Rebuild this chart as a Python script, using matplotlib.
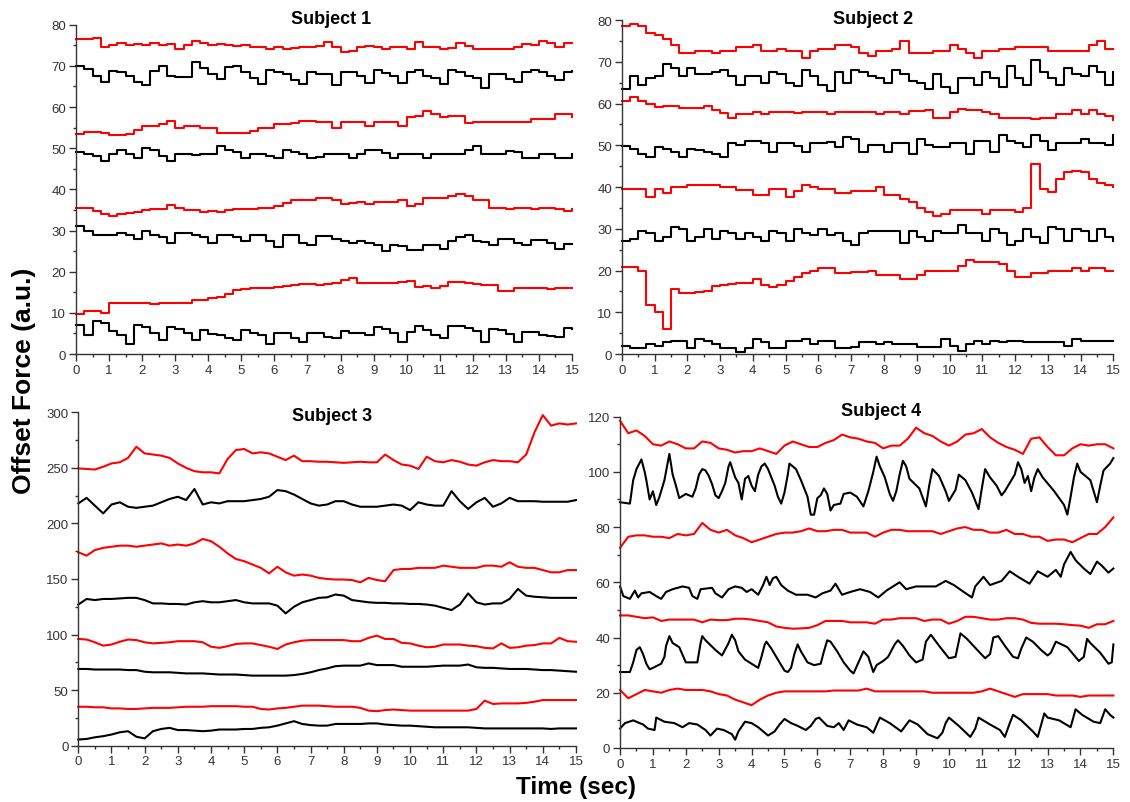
import matplotlib
matplotlib.use('Agg')
import matplotlib.pyplot as plt
import numpy as np
from matplotlib.ticker import MultipleLocator

plt.rcParams['font.family'] = ['Liberation Sans', 'DejaVu Sans']

# ---- Subject 1 : one value every 0.25 s (0 .. 15 s) ----
s1_red_75 = [76.5, 76.5, 76.8, 74.5, 75, 75.5, 75, 75.3, 75, 75.5, 75, 75.2, 74, 75, 76, 75.5,
             75, 75.3, 75, 74.8, 75, 74.5, 74.5, 74.2, 74.5, 74, 74.3, 74.5, 74.5, 74.8, 75.7, 74.5,
             73.3, 73.5, 74.5, 74.8, 74.5, 74.2, 74.5, 74.5, 74.2, 75.7, 74.5, 74.5, 74, 74.3, 75.5,
             74.8, 74.2, 74, 74.2, 74, 74.2, 74.5, 75.3, 75, 76, 75.5, 74.5, 75.5, 75.5]
s1_black_68 = [70, 69.2, 67.5, 66.2, 68.8, 68.5, 67.5, 66, 65.3, 68.8, 70, 67.5, 67.2, 67.3, 71, 69.5,
               68, 66.8, 69.8, 70, 68.5, 67, 65.5, 69, 68.5, 68, 66.5, 65.5, 68.5, 68, 68, 65.3,
               68.5, 68.5, 67.5, 65.8, 69, 68.3, 67.5, 65.8, 68.5, 69, 67.5, 67, 65.5, 69, 68.5,
               67.5, 67, 64.5, 68, 68, 66.8, 66, 68.5, 69, 68.5, 67.5, 66.5, 68.5, 68.8]
s1_red_55 = [53.5, 54, 54, 53.8, 53.2, 53.3, 53.5, 54.5, 55.5, 55.5, 55.8, 56.5, 55, 55.5, 55.3, 55,
             54.8, 53.8, 53.8, 53.8, 53.8, 54.2, 55, 55, 55.8, 55.9, 56, 56.5, 56.5, 56.3, 56.3, 55,
             56.3, 56.3, 56.3, 55.5, 56.3, 56.3, 56.3, 55.5, 57.5, 57.8, 59, 58.3, 57.5, 57.9, 57.9,
             56, 56.3, 56.3, 56.3, 56.3, 56.3, 56.3, 56.3, 57, 57, 57, 58.3, 58.3, 57.5]
s1_black_48 = [49, 48.5, 48, 47, 48.5, 49.5, 48.5, 47.5, 50, 49.5, 48, 47, 48.5, 48.5, 48.3, 48.5,
               48.5, 50.5, 49.5, 49, 47.5, 48.5, 48.5, 48, 47.5, 49.5, 49, 48.5, 47.5, 47.8, 48.5, 48.5,
               48.5, 47.5, 48.5, 49.5, 49.5, 48.8, 47.5, 48.5, 48.5, 48.5, 47.5, 48.5, 48.5, 48.5, 48.5,
               49.5, 50.5, 48.5, 48.5, 48.5, 49.2, 49, 47.5, 47.5, 48.5, 48.5, 47.5, 47.5, 48.5]
s1_red_35 = [35.5, 35.5, 34.8, 34, 33.5, 34, 34.2, 34.5, 35, 35.2, 35.3, 36.3, 35.5, 35, 35, 34.5,
             34.8, 34.5, 35, 35.2, 35.2, 35.2, 35.5, 35.5, 36, 36.8, 37.5, 37.5, 37.5, 37.8, 37.8, 37.5,
             36.5, 36.8, 37, 36.5, 37, 37, 37, 37.5, 36, 36.5, 37.8, 37.8, 38, 38.5, 38.8,
             38.3, 37.5, 37.5, 35.5, 35.5, 35.3, 35.5, 35.5, 35.3, 35.5, 35.5, 35.3, 34.8, 35.2]
s1_black_28 = [31, 30, 29, 29, 29, 29.5, 29, 28, 30, 29, 28.5, 27, 29.5, 29.5, 29, 28.5,
               27, 29, 28.8, 28.5, 27.5, 28.8, 28.8, 27.5, 26, 29, 28.8, 27, 26.5, 28.6, 28.6, 28,
               27.5, 27, 27.5, 27, 26.5, 25, 26.5, 26.3, 25.3, 25.3, 26.5, 26.5, 25.5, 27.5, 28.5,
               29, 27.5, 27.3, 26.5, 28, 28, 27, 26.5, 27.8, 27.8, 27, 25.5, 26.7, 26.7]
s1_red_15 = [9.8, 10.5, 10.5, 10, 12.5, 12.5, 12.3, 12.5, 12.5, 12.2, 12.5, 12.3, 12.5, 12.5, 13, 13,
             13.5, 13.8, 14.5, 15.5, 15.8, 16, 16, 16, 16.3, 16.5, 16.8, 17, 17, 16.8, 17, 17.2,
             18, 18.5, 17.2, 17.2, 17.2, 17.2, 17.2, 17.5, 17.8, 16.2, 16.4, 16, 16.4, 17.5, 17.5,
             17.3, 17, 16.8, 16.8, 15.2, 15.2, 16, 16, 16, 16, 15.8, 16, 16, 16]
s1_black_5 = [7, 4.5, 8, 7.5, 5.5, 4.5, 2.5, 7, 6.5, 5, 3.5, 6.5, 6, 5, 3.5, 5.8,
              4.8, 4.5, 4, 3.5, 5.8, 5, 4.5, 2.5, 5, 5, 4, 3, 5.2, 5.2, 4.2, 3.8,
              5.5, 5.2, 5, 4.5, 6.5, 6, 5.2, 3, 5.3, 6.9, 5.8, 4.5, 3.8, 6.9, 6.9,
              6.3, 5.5, 2.8, 6.1, 5.8, 4.8, 3, 5.3, 5.3, 4.5, 4.3, 4.2, 6.3, 6.1]

# ---- Subject 2 : one value every 0.25 s ----
s2_red_73 = [78.5, 79, 78.5, 77, 76.5, 75.5, 74, 72, 72, 72.5, 72.5, 72, 72.5, 72.5, 73.5, 73.5,
             74, 72.5, 72.5, 73, 72.5, 72.5, 71, 72.5, 73, 73, 74, 74, 73.5, 72, 71.5, 72.5,
             72.5, 73, 75, 72, 72, 72, 72.5, 72.5, 74, 73, 72, 71, 72.5, 72.5, 73,
             73, 73.5, 73.5, 73.5, 73.5, 72.5, 72.5, 72.5, 72.5, 72.5, 74, 75, 73, 73]
s2_black_66 = [63.5, 66.5, 64.5, 66, 66.5, 69.5, 68.5, 66.5, 68.5, 67, 67, 67.5, 68, 66.5, 64.5, 66.5,
               66.5, 65, 67.5, 67, 65, 64.3, 68, 66.5, 64.5, 63, 67.5, 65, 68, 67.5, 66.5, 66,
               65, 68, 67, 65.5, 65, 63.5, 67, 64, 62.5, 66, 66, 64.5, 67.5, 66, 64,
               69, 66, 64.5, 70.5, 67.5, 66, 64.5, 68.5, 67, 66.5, 69, 67.5, 64.5, 67.5]
s2_red_58 = [60.5, 61.5, 60.5, 60, 59.2, 59.5, 59.5, 59, 59, 59, 59.5, 58.5, 57.8, 56.5, 57.5, 57.5,
             58, 57.5, 58, 58, 58, 57.8, 58, 58, 58, 57.5, 58, 58, 58, 58, 58, 57.5,
             58, 58, 57.5, 58.3, 58.3, 58.5, 56.5, 56.5, 58, 58.8, 58.5, 58.5, 58, 57.5, 56.5,
             56.5, 56.5, 56.5, 56.3, 56.5, 56.5, 57.5, 57.5, 58.5, 57.5, 58.5, 57.5, 57, 56]
s2_black_50 = [49.8, 49, 48, 47.3, 49.5, 49, 48.5, 47.3, 49, 48.8, 48.5, 47.8, 47.3, 50.5, 50, 51,
               51, 50.5, 48.5, 50.5, 50.5, 49.8, 48.5, 50.5, 50.5, 50.8, 49.5, 52, 51.5, 48.3, 50, 50,
               48.3, 50.5, 50.5, 48, 51.5, 50, 49.5, 49.5, 50.5, 50.5, 48, 51, 51, 48.5, 52.5,
               51, 50.5, 49.5, 52.5, 51, 48.8, 50.5, 50.5, 50.5, 51.5, 50.5, 50.5, 50, 52.5]
s2_red_39 = [39.5, 39.5, 39.5, 37.5, 39.5, 38.5, 40, 40, 40.5, 40.5, 40.5, 40.5, 40, 40, 39.2, 39.2,
             38, 38, 39.5, 39.5, 37.5, 39, 40.5, 40, 39.5, 39.5, 38.5, 38.5, 39, 39, 39, 40,
             38, 38, 37.2, 36.5, 35, 34, 33, 33.5, 34.5, 34.5, 34.5, 34.5, 33.5, 34.5, 34.5,
             34.5, 34, 35, 45.5, 39.5, 38.8, 42, 43.5, 43.8, 43.5, 42, 41, 40.5, 40]
s2_black_28 = [27, 27.5, 29.5, 29, 27, 28, 30.5, 30, 27, 28, 30, 27.5, 29.5, 29, 27.5, 29,
               28, 27, 29.5, 29, 27, 30, 29, 28.5, 30, 28.5, 29, 27, 26, 29, 29.5, 29.5,
               29.5, 29.5, 26.5, 29.5, 28, 27, 29.5, 29, 29, 31, 29, 29, 27, 30, 29,
               26, 27, 30, 28, 26.5, 30.5, 30, 27, 30, 29.5, 27, 30, 28, 27]
s2_red_20 = [20.8, 20.8, 20, 11.8, 10, 6, 15.5, 14.5, 14.5, 14.8, 15, 16.3, 16.5, 16.8, 17, 17,
             18, 16.5, 16, 16.5, 17.5, 18.5, 19.5, 20, 20.5, 20.5, 19.5, 19.5, 19.6, 19.6, 19.8, 19,
             19, 19, 18, 18, 19, 20, 20, 20, 20, 21, 22.5, 22, 22, 22, 21.5,
             19.8, 18.5, 18.5, 19.3, 19.5, 20, 20, 20, 20.5, 20, 20.5, 20.5, 20, 20]
s2_black_2 = [2, 1.5, 1.5, 2.5, 2, 2.8, 3, 3, 1.5, 3.5, 3, 2.5, 1.5, 1.5, 0.5, 1.5,
              3.5, 2.8, 1.5, 1.5, 3, 3, 3.5, 2.5, 3, 3, 1.5, 1.5, 1.6, 2.8, 2.8, 2.5,
              2.8, 2.3, 2.5, 2.3, 1.6, 1.6, 1.6, 3.5, 2, 0.8, 2.5, 3, 2.5, 3, 2.8,
              3.2, 3, 2.8, 2.8, 2.8, 2.8, 2.8, 1.8, 3.5, 3.2, 3.2, 3, 3.2, 3.2]

# ---- Subject 3 : one value every 0.25 s ----
s3_red_255 = [249.5, 249, 248.5, 251, 254, 255, 259, 269, 263, 262, 261, 259, 254, 250, 247, 246,
              246, 245, 258, 266, 267, 263, 264, 263, 260, 257, 261, 256, 256, 255.5, 255.5, 255,
              254.5, 255, 255.5, 255, 255, 262, 257, 253, 252, 249, 260, 256, 255, 257, 255.5,
              253, 252, 255, 257, 256, 256, 255, 262, 282, 297.5, 288, 290, 289, 290]
s3_black_220 = [218, 223, 216, 209, 217, 219, 215, 214, 215, 216, 219, 222, 224, 221, 231, 217,
                219, 218, 220, 220, 220, 221, 222, 224, 230, 229, 226, 222, 218, 216, 217, 220,
                220, 217, 215, 215, 215, 216, 217, 216, 212, 219, 217, 216, 216, 229, 220,
                213, 219, 223, 215, 218, 223, 220, 220, 220, 219.5, 219.5, 219.5, 219.5, 221]
s3_red_165 = [174, 171, 176, 178, 179, 180, 180, 179, 180, 181, 182, 180, 181, 180, 182, 186,
              184, 179, 173, 168, 166, 163, 160, 155, 161, 156, 153, 154, 153, 151, 150, 149.5,
              149.5, 149, 147, 151, 149, 148, 158, 159, 159, 160, 160, 160, 162, 161, 160,
              160, 160, 162, 162, 161, 165, 161, 160, 160, 158, 156, 156, 158, 158]
s3_black_130 = [127, 132, 131, 132, 132, 132.5, 133, 133, 131, 128, 128, 127.5, 127.5, 127, 129, 130,
                129, 129, 130, 131, 129, 128, 128, 128, 126, 119, 125, 129, 131, 133, 133.5, 136,
                135, 131, 130, 129, 128.5, 128.5, 128, 128, 127.5, 127.5, 127, 126, 124, 122, 127,
                137, 129, 127, 128, 128, 132, 141, 135, 134, 133.5, 133, 133, 133, 133]
s3_red_93 = [96, 95.5, 93, 90, 91, 93.5, 95.5, 95, 93, 92, 92.5, 93, 94, 94, 94, 93,
             89, 88, 89.5, 91.5, 92, 92, 90.5, 89, 87, 91, 93, 94.5, 95, 95, 95, 95,
             95, 94, 94, 97, 99, 96, 96, 92.5, 92, 90, 88.5, 89, 91, 91, 91,
             90, 89.5, 88, 87.5, 92, 88, 88.5, 90, 90.5, 92, 92, 97, 94, 93.5]
s3_black_67 = [69, 69, 68.5, 68.5, 68.5, 68.5, 68, 68, 66.5, 66, 66, 66, 65.5, 65, 65, 65,
               64.5, 64, 64, 64, 63.5, 63, 63, 63, 63, 63, 63.5, 64.5, 66, 68, 69.5, 71.5,
               72, 72, 72, 74, 72.5, 72.5, 72.5, 71, 71, 71, 71, 71.5, 72, 72, 72,
               73, 70.5, 70, 70, 69.5, 69, 69, 69, 68.5, 68, 68, 67.5, 67, 66.5]
s3_red_35 = [35, 35, 34.5, 34.5, 33.5, 33.5, 33, 33, 33.5, 34, 34, 34, 34.5, 35, 35, 35,
             35.5, 35.5, 35.5, 35.5, 35, 35, 33, 32.5, 33.5, 34, 35, 36, 36, 36, 35.5, 35,
             35, 35, 34, 31.5, 31, 32, 32.5, 32, 31.5, 31.5, 31.5, 31.5, 31.5, 31.5, 31.5,
             31.5, 33, 40.5, 37.5, 38, 38, 38, 38.5, 39.5, 41, 41, 41, 41, 41]
s3_black_15 = [5.5, 6, 7.5, 8.5, 10, 12, 13, 8, 6.5, 13, 15, 16, 14, 14, 13.5, 13,
               13.5, 14.5, 14.5, 14.5, 15, 15, 16, 16.5, 18, 20, 22, 19.5, 18.5, 18, 18, 19.5,
               19.5, 19.5, 19.5, 20, 20, 19, 18.5, 18, 18, 17.5, 17, 16.5, 16.5, 16.5, 16.5,
               16.5, 16, 15.5, 15.5, 15.5, 15.5, 15.5, 15.5, 15.5, 15.5, 15, 15.5, 15.5, 15.5]

# ---- Subject 4 : red traces every 0.25 s ----
s4_red_110 = [118.5, 114, 115, 113, 110, 109.5, 111, 110, 108.5, 108.5, 111, 110.5, 108.5, 108, 107, 107.5,
              107.5, 108.5, 107.5, 106.5, 109.5, 111, 110, 109, 109, 110.5, 111.5, 113.5, 112.5, 112, 111, 110.5,
              108.5, 109.5, 109.5, 112, 116, 114, 113, 111, 109.5, 111, 113.5, 114, 115.5, 112.5, 110.5,
              109, 108, 106.5, 112, 112.5, 109, 106, 106, 108.5, 110, 109.5, 110, 110, 108.5]
s4_red_77 = [72.5, 76.5, 77, 77, 76.5, 76.5, 76, 77.5, 77, 77.5, 81.5, 79, 78, 79, 77, 76,
             74.5, 75.5, 76.5, 77.5, 78, 78, 78.5, 79.5, 78.5, 78.5, 79, 79, 78, 78, 78, 76.5,
             78, 79, 79, 78.5, 78.5, 78.5, 78.5, 77.5, 78.5, 79.5, 80, 79, 79, 78, 78,
             79, 77.5, 77.5, 76.5, 76.5, 75, 75.5, 75.5, 74.5, 76, 77.5, 77.5, 80, 83.5]
s4_red_46 = [48, 48, 47.5, 47, 47.3, 46, 46.5, 46.5, 46.5, 46.5, 45.5, 46.5, 46.3, 46.3, 46.8, 46.8,
             46.5, 46, 45.5, 44, 43.5, 43.2, 43.3, 43.5, 44.5, 46, 46, 46, 45.5, 45.5, 45.5, 45,
             46.5, 46.5, 47, 47, 47, 46, 46.5, 46.5, 45, 46, 47.5, 47.5, 47, 46.5, 46.5,
             47, 47, 46.5, 45.3, 45, 45, 45, 44.8, 44.5, 44.3, 43.5, 44.8, 44.8, 46]
s4_red_20 = [21, 18, 19.5, 21, 20.5, 20, 21, 21.5, 21, 21, 21, 20.5, 19.5, 19, 17.5, 16.5,
             15.5, 17.5, 19, 20, 20.5, 20.5, 20.5, 20.5, 20.5, 20.5, 20.8, 20.8, 20.8, 20.8, 21.5, 20.5,
             20.5, 20.5, 20.5, 20.5, 20.5, 20.5, 20, 20, 20, 20, 20, 20, 20.5, 21.5, 20.5,
             19.5, 18.5, 19.5, 19.5, 19.5, 19.5, 19, 19, 19, 18.5, 19, 19, 19, 19]

# ---- Subject 4 : black traces, time (s) and force at turning points ----
s4_black_95_t = [0, 0.3, 0.4, 0.5, 0.65, 0.75, 0.8, 0.9, 1.0, 1.1, 1.2, 1.35, 1.5, 1.6, 1.7, 1.8, 2.0,
                 2.2, 2.3, 2.4, 2.5, 2.6, 2.7, 2.8, 2.9, 3.0, 3.1, 3.2, 3.3, 3.35, 3.5, 3.6, 3.7, 3.8,
                 3.9, 4.0, 4.1, 4.2, 4.3, 4.4, 4.5, 4.6, 4.7, 4.8, 4.9, 5.0, 5.1, 5.15, 5.3, 5.35, 5.5,
                 5.6, 5.7, 5.8, 5.9, 6.0, 6.1, 6.2, 6.3, 6.4, 6.5, 6.7, 6.8, 7.0, 7.2, 7.4, 7.55, 7.7,
                 7.8, 7.9, 8.05, 8.2, 8.3, 8.4, 8.5, 8.6, 8.7, 8.8, 9.1, 9.3, 9.4, 9.5, 9.7, 9.9, 10.0,
                 10.2, 10.3, 10.5, 10.7, 10.9, 11.0, 11.1, 11.25, 11.45, 11.6, 11.7, 11.85, 12.0, 12.1,
                 12.2, 12.3, 12.4, 12.5, 12.6, 12.7, 12.85, 13.2, 13.5, 13.6, 13.7, 13.8, 13.9, 14.0,
                 14.3, 14.5, 14.6, 14.7, 14.9, 15.0]
s4_black_95 = [89, 88.5, 97, 101, 104.5, 100, 97, 90, 93, 88, 91, 97, 106.5, 99, 95, 90.5, 92,
               91, 94, 99, 101, 100.5, 98.5, 95.5, 91.5, 90.5, 93, 96, 102, 103.5, 98, 96, 90, 97.5,
               98.5, 95, 93, 99, 102, 103, 101, 98, 95, 91, 88.5, 92.5, 99, 103, 101.5, 101, 97,
               94, 91, 84.5, 84.5, 90.5, 91.5, 94, 92, 86, 88, 88.5, 92, 92.5, 91, 87.5, 93, 100,
               105.5, 102, 98, 92, 89.5, 93, 99, 104, 102, 97.5, 94, 87.5, 95, 101, 98.5, 93, 89.5,
               93.5, 99, 97, 92.5, 86.5, 94, 101, 98, 95, 91.5, 93, 96, 99, 103.5,
               101, 96, 98.5, 93, 98, 101, 98, 93, 88, 84.5, 91, 98, 103, 100,
               97, 89, 95, 100.5, 103, 105]
s4_black_60_t = [0, 0.1, 0.3, 0.45, 0.55, 0.65, 0.9, 1.1, 1.25, 1.4, 1.6, 1.9, 2.1, 2.2, 2.35, 2.45,
                 2.8, 2.9, 3.1, 3.3, 3.5, 3.7, 3.85, 4.0, 4.2, 4.35, 4.45, 4.55, 4.65, 4.75, 4.9, 5.1,
                 5.35, 5.7, 5.95, 6.15, 6.4, 6.55, 6.75, 7.0, 7.3, 7.6, 7.85, 8.1, 8.5, 8.7, 9.0, 9.4,
                 9.6, 9.9, 10.15, 10.45, 10.7, 10.8, 11.05, 11.25, 11.6, 11.85, 12.1, 12.45, 12.7, 13.0,
                 13.25, 13.4, 13.5, 13.7, 13.85, 14.1, 14.3, 14.5, 14.65, 14.85, 15.0]
s4_black_60 = [58.5, 55, 54, 57, 54.5, 56, 56.5, 55, 54, 56.5, 57.5, 58.5, 58, 55, 54, 57.5,
               58, 56, 54.5, 57.5, 58.5, 58, 56.5, 57.5, 55.5, 59, 62, 59, 61.5, 62, 59, 57,
               55.5, 55.5, 54.5, 56, 57, 59.5, 55.5, 56.5, 57.5, 56.5, 54.5, 57, 60, 57.5, 58.5, 58.5,
               58.5, 60.5, 59, 56.5, 54.5, 58.5, 62, 59, 60.5, 64, 62, 59.5, 64, 62,
               64.5, 62, 66.5, 71, 68, 65, 63, 67.5, 66, 63.5, 65]
s4_black_35_t = [0, 0.3, 0.4, 0.5, 0.6, 0.7, 0.8, 0.9, 1.0, 1.25, 1.35, 1.4, 1.5, 1.6, 1.8, 2.0, 2.35,
                 2.45, 2.5, 2.6, 2.9, 3.1, 3.3, 3.4, 3.5, 3.6, 3.8, 4.0, 4.2, 4.3, 4.4, 4.45, 4.6, 4.8,
                 5.0, 5.1, 5.2, 5.3, 5.4, 5.5, 5.7, 5.9, 6.1, 6.2, 6.3, 6.4, 6.6, 6.8, 7.0, 7.1, 7.25,
                 7.4, 7.55, 7.7, 7.8, 8.0, 8.15, 8.35, 8.45, 8.6, 8.8, 9.0, 9.2, 9.3, 9.45, 9.7, 10.0,
                 10.2, 10.35, 10.55, 10.9, 11.1, 11.25, 11.35, 11.5, 11.7, 11.95, 12.1, 12.2, 12.35,
                 12.55, 12.8, 13.0, 13.1, 13.25, 13.6, 13.95, 14.1, 14.2, 14.3, 14.6, 14.85, 14.95, 15.0]
s4_black_35 = [27.5, 27.5, 31, 35.5, 36.5, 34, 30.5, 28.5, 29, 30.5, 33, 37, 40.5, 38, 36.5, 31, 31,
               38, 40.5, 39, 35.5, 33.5, 38, 41, 39, 35, 32, 30.5, 29, 33, 37.5, 38.5, 36, 32,
               28, 27.5, 29, 34, 37.5, 35, 31, 30, 30.5, 35, 39, 38.5, 35, 31, 28, 27, 31,
               35, 33, 27.5, 30, 31.5, 33, 37.5, 39, 37, 33.5, 31, 32, 38.5, 41, 37, 32.5,
               33, 41.5, 39.5, 35, 32.5, 34, 40, 40.5, 37, 33, 32.5, 36, 40,
               38.5, 35.5, 33.5, 34.5, 38.5, 36.5, 31.5, 33, 39.5, 38, 34.5, 30.5, 31, 37.5]
s4_black_8_t = [0, 0.15, 0.4, 0.7, 0.85, 1.05, 1.1, 1.35, 1.65, 1.9, 2.1, 2.35, 2.6, 2.75, 2.95, 3.15,
                3.4, 3.5, 3.6, 3.8, 4.0, 4.2, 4.4, 4.5, 4.7, 4.85, 5.0, 5.2, 5.4, 5.65, 5.8, 5.95,
                6.05, 6.3, 6.5, 6.65, 6.8, 6.95, 7.2, 7.5, 7.7, 7.9, 8.2, 8.55, 8.8, 9.05, 9.35, 9.65,
                9.8, 9.9, 10.0, 10.3, 10.65, 10.8, 10.9, 11.25, 11.55, 11.7, 11.85, 11.95, 12.2, 12.55,
                12.7, 12.9, 13.0, 13.35, 13.7, 13.85, 14.05, 14.4, 14.6, 14.75, 14.9, 15.0]
s4_black_8 = [7, 9, 10, 8.5, 7, 6.5, 11, 9.5, 9, 7.5, 9, 8.5, 6.5, 4.5, 7, 6.5,
              5, 3, 6, 9.5, 9, 7.5, 5.5, 4.5, 6, 8.5, 10.5, 9, 8, 6.5, 8, 10.5,
              11, 8, 7.5, 9, 6.5, 10, 8.5, 7.5, 5.5, 11, 9, 6, 10, 8.5, 5, 3.5,
              5.5, 9, 11, 8, 4, 7, 11, 8.5, 6.5, 4, 9, 12, 10, 6,
              4, 12.5, 11, 10, 7.5, 14, 12, 9.5, 9, 14, 12, 11]

RED = '#ff0000'
BLACK = '#000000'


def uniform(vals):
    return np.linspace(0, 15, len(vals)), np.array(vals)


panels = [
    dict(rect=[0.0673, 0.5579, 0.4389, 0.4101], ymax=80, major=10, minor=5,
         title='Subject 1', tpos=(0.514, 1.004), steps=True,
         traces=[(uniform(s1_red_75), RED), (uniform(s1_black_68), BLACK),
                 (uniform(s1_red_55), RED), (uniform(s1_black_48), BLACK),
                 (uniform(s1_red_35), RED), (uniform(s1_black_28), BLACK),
                 (uniform(s1_red_15), RED), (uniform(s1_black_5), BLACK)]),
    dict(rect=[0.5502, 0.5579, 0.4351, 0.4159], ymax=80, major=10, minor=5,
         title='Subject 2', tpos=(0.511, 0.99), steps=True,
         traces=[(uniform(s2_red_73), RED), (uniform(s2_black_66), BLACK),
                 (uniform(s2_red_58), RED), (uniform(s2_black_50), BLACK),
                 (uniform(s2_red_39), RED), (uniform(s2_black_28), BLACK),
                 (uniform(s2_red_20), RED), (uniform(s2_black_2), BLACK)]),
    dict(rect=[0.0693, 0.0702, 0.4404, 0.4151], ymax=300, major=50, minor=25,
         title='Subject 3', tpos=(0.51, 0.978), steps=False,
         traces=[(uniform(s3_red_255), RED), (uniform(s3_black_220), BLACK),
                 (uniform(s3_red_165), RED), (uniform(s3_black_130), BLACK),
                 (uniform(s3_red_93), RED), (uniform(s3_black_67), BLACK),
                 (uniform(s3_red_35), RED), (uniform(s3_black_15), BLACK)]),
    dict(rect=[0.5487, 0.0673, 0.4366, 0.4126], ymax=120, major=20, minor=10,
         title='Subject 4', tpos=(0.529, 1.006), steps=False,
         traces=[(uniform(s4_red_110), RED), ((s4_black_95_t, s4_black_95), BLACK),
                 (uniform(s4_red_77), RED), ((s4_black_60_t, s4_black_60), BLACK),
                 (uniform(s4_red_46), RED), ((s4_black_35_t, s4_black_35), BLACK),
                 (uniform(s4_red_20), RED), ((s4_black_8_t, s4_black_8), BLACK)]),
]

fig = plt.figure(figsize=(11.3, 8.03), dpi=100)

for p in panels:
    ax = fig.add_axes(p['rect'])
    for (t, v), c in p['traces']:
        ax.plot(t, v, color=c, lw=1.5, drawstyle='steps-post' if p['steps'] else 'default',
                clip_on=False)
    ax.set_xlim(0, 15)
    ax.set_ylim(0, p['ymax'])
    ax.xaxis.set_major_locator(MultipleLocator(1))
    ax.xaxis.set_minor_locator(MultipleLocator(0.5))
    ax.yaxis.set_major_locator(MultipleLocator(p['major']))
    ax.yaxis.set_minor_locator(MultipleLocator(p['minor']))
    for s in ['top', 'right']:
        ax.spines[s].set_visible(False)
    for s in ['left', 'bottom']:
        ax.spines[s].set_color('#333333')
        ax.spines[s].set_linewidth(1.0)
    ax.tick_params(which='major', direction='out', length=5, width=1, colors='#333333',
                   labelsize=9.5, pad=2)
    ax.tick_params(which='minor', direction='out', length=2.5, width=1, colors='#333333')
    ax.text(p['tpos'][0], p['tpos'][1], p['title'], transform=ax.transAxes, ha='center',
            va='baseline', fontsize=13, fontweight='bold')

fig.text(0.021, 0.5255, 'Offset Force (a.u.)', rotation=90, ha='center', va='center',
         fontsize=19, fontweight='bold')
fig.text(0.51, 0.019, 'Time (sec)', ha='center', va='center', fontsize=17.5, fontweight='bold')

fig.savefig('out.png', dpi=100)
